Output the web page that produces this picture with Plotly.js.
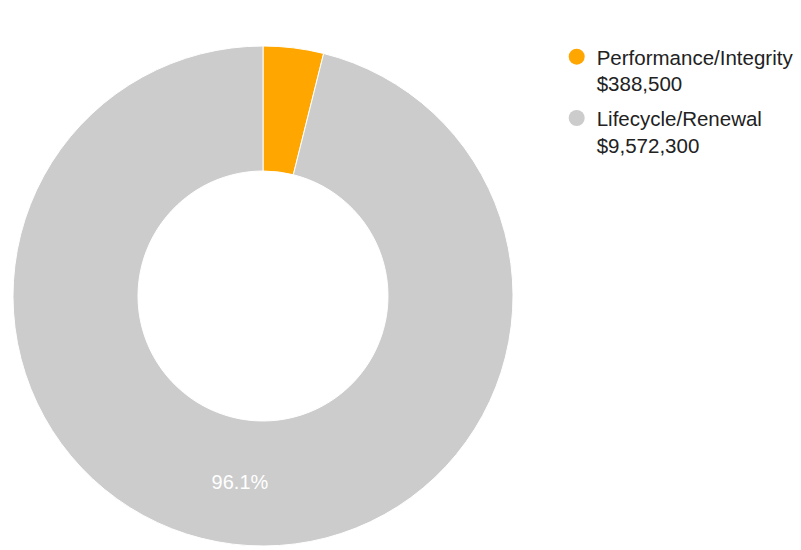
<!DOCTYPE html>
<html>
<head>
<meta charset="utf-8">
<script src="https://cdn.plot.ly/plotly-3.0.1.min.js"></script>
<style>html,body{margin:0;padding:0;background:#fff;}#chart{width:801px;height:550px;}</style>
</head>
<body>
<div id="chart"></div>
<script>
const categories = ['Performance/Integrity', 'Lifecycle/Renewal'];
const amounts = [388500, 9572300];
const amountLabels = ['$388,500', '$9,572,300'];
const colors = ['#FFA600', '#CCCCCC'];
const sliceText = ['', '%{percent:.1%}'];

const pie = {
  type: 'pie',
  labels: categories,
  values: amounts,
  hole: 0.5,
  sort: false,
  direction: 'clockwise',
  rotation: 0,
  marker: {colors: colors, line: {color: '#ffffff', width: 1}},
  texttemplate: sliceText,
  textposition: 'inside',
  insidetextorientation: 'horizontal',
  textfont: {family: 'Liberation Sans, Arial, sans-serif', size: 20, color: '#ffffff'},
  domain: {x: [13/801, 513/801], y: [4/550, 504/550]},
  showlegend: false,
  hoverinfo: 'label+value+percent'
};

const legendTraces = categories.map((c, i) => ({
  type: 'scatter',
  mode: 'markers',
  x: [null], y: [null],
  name: c + '<br>' + amountLabels[i],
  legendgroup: 'g' + i,
  marker: {symbol: 'circle', size: 17, color: colors[i]},
  showlegend: true,
  hoverinfo: 'skip'
}));

const layout = {
  width: 801, height: 550,
  margin: {l: 0, r: 0, t: 0, b: 0},
  paper_bgcolor: '#ffffff',
  plot_bgcolor: 'rgba(0,0,0,0)',
  xaxis: {visible: false},
  yaxis: {visible: false},
  showlegend: true,
  legend: {
    x: 0.695, y: 0.933, xanchor: 'left', yanchor: 'top',
    font: {family: 'Liberation Sans, Arial, sans-serif', size: 20.5, color: '#222222'},
    valign: 'top',
    tracegroupgap: 5,
    itemwidth: 30
  }
};

Plotly.newPlot('chart', [pie].concat(legendTraces), layout, {displayModeBar: false, staticPlot: true});
</script>
</body>
</html>
